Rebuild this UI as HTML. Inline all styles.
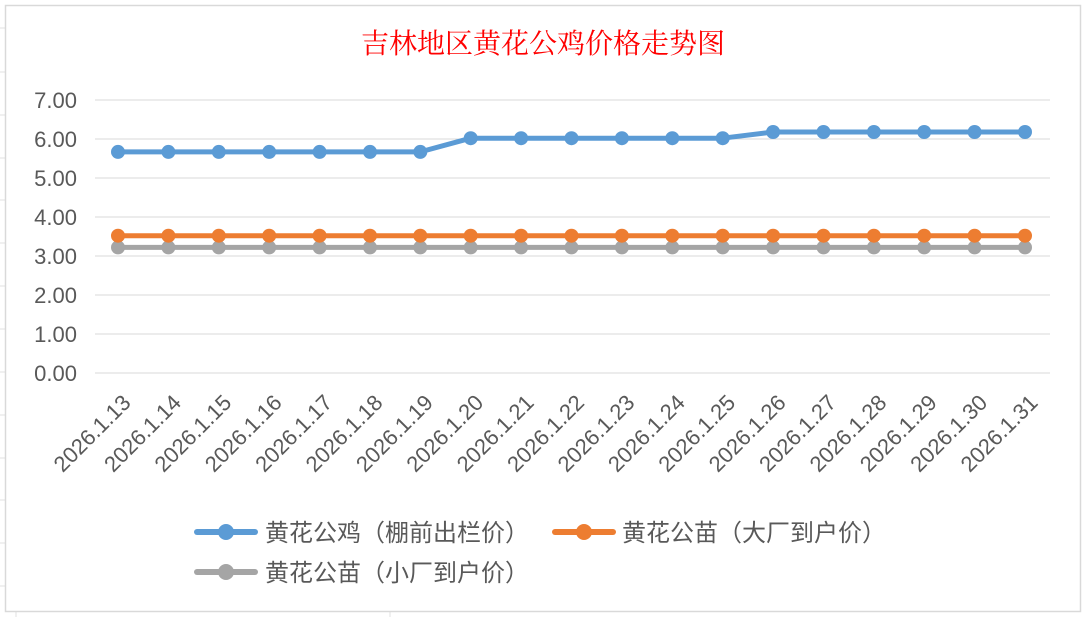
<!DOCTYPE html><html><head><meta charset="utf-8"><style>body{margin:0;background:#fff}svg{display:block}</style></head><body>
<svg width="1087" height="617" xmlns="http://www.w3.org/2000/svg" font-family="'Liberation Sans','Noto Sans CJK SC',sans-serif">
<defs>
<g id="m1"><circle cx="118" cy="151.9" r="7"/><circle cx="168.4" cy="151.9" r="7"/><circle cx="218.8" cy="151.9" r="7"/><circle cx="269.2" cy="151.9" r="7"/><circle cx="319.6" cy="151.9" r="7"/><circle cx="370" cy="151.9" r="7"/><circle cx="420.3" cy="151.9" r="7"/><circle cx="470.7" cy="138.2" r="7"/><circle cx="521.1" cy="138.2" r="7"/><circle cx="571.5" cy="138.2" r="7"/><circle cx="621.9" cy="138.2" r="7"/><circle cx="672.3" cy="138.2" r="7"/><circle cx="722.7" cy="138.2" r="7"/><circle cx="773.1" cy="132" r="7"/><circle cx="823.5" cy="132" r="7"/><circle cx="873.9" cy="132" r="7"/><circle cx="924.2" cy="132" r="7"/><circle cx="974.6" cy="132" r="7"/><circle cx="1025" cy="132" r="7"/></g>
<g id="row"><circle cx="118" cy="0" r="7"/><circle cx="168.4" cy="0" r="7"/><circle cx="218.8" cy="0" r="7"/><circle cx="269.2" cy="0" r="7"/><circle cx="319.6" cy="0" r="7"/><circle cx="370" cy="0" r="7"/><circle cx="420.3" cy="0" r="7"/><circle cx="470.7" cy="0" r="7"/><circle cx="521.1" cy="0" r="7"/><circle cx="571.5" cy="0" r="7"/><circle cx="621.9" cy="0" r="7"/><circle cx="672.3" cy="0" r="7"/><circle cx="722.7" cy="0" r="7"/><circle cx="773.1" cy="0" r="7"/><circle cx="823.5" cy="0" r="7"/><circle cx="873.9" cy="0" r="7"/><circle cx="924.2" cy="0" r="7"/><circle cx="974.6" cy="0" r="7"/><circle cx="1025" cy="0" r="7"/></g>
</defs>
<rect width="1087" height="617" fill="#fff"/>
<g stroke="#e0e0e0" stroke-width="1">
<line x1="0" y1="28" x2="5" y2="28"/><line x1="0" y1="72" x2="5" y2="72"/><line x1="0" y1="115" x2="5" y2="115"/><line x1="0" y1="158" x2="5" y2="158"/><line x1="0" y1="200" x2="5" y2="200"/><line x1="0" y1="243" x2="5" y2="243"/><line x1="0" y1="286" x2="5" y2="286"/><line x1="0" y1="329" x2="5" y2="329"/><line x1="0" y1="372" x2="5" y2="372"/><line x1="0" y1="415" x2="5" y2="415"/><line x1="0" y1="458" x2="5" y2="458"/><line x1="0" y1="500" x2="5" y2="500"/><line x1="0" y1="543" x2="5" y2="543"/><line x1="0" y1="586" x2="5" y2="586"/>
<line x1="16" y1="612" x2="16" y2="617"/><line x1="390" y1="612" x2="390" y2="617"/>
</g>
<rect x="5.5" y="5.5" width="1075" height="606" fill="#fff" stroke="#d9d9d9" stroke-width="1.5"/>
<text x="543" y="53" text-anchor="middle" fill="#ff0000" font-size="28" font-family="'Liberation Serif','Noto Serif CJK SC',serif">吉林地区黄花公鸡价格走势图</text>
<g stroke="#d9d9d9" stroke-width="1">
<line x1="95" y1="100" x2="1050" y2="100"/><line x1="95" y1="139" x2="1050" y2="139"/><line x1="95" y1="178" x2="1050" y2="178"/><line x1="95" y1="217" x2="1050" y2="217"/><line x1="95" y1="256" x2="1050" y2="256"/><line x1="95" y1="295" x2="1050" y2="295"/><line x1="95" y1="334" x2="1050" y2="334"/><line x1="95" y1="373" x2="1050" y2="373"/>
</g>
<g fill="#595959" font-size="22" text-anchor="end">
<text x="77" y="108">7.00</text><text x="77" y="147">6.00</text><text x="77" y="186">5.00</text><text x="77" y="225">4.00</text><text x="77" y="264">3.00</text><text x="77" y="303">2.00</text><text x="77" y="342">1.00</text><text x="77" y="381">0.00</text>
</g>
<line x1="118" y1="247.4" x2="1025" y2="247.4" stroke="#a5a5a5" stroke-width="5" stroke-linecap="round"/>
<use href="#row" transform="translate(0,247.4)" fill="#a5a5a5"/>
<line x1="118" y1="235.7" x2="1025" y2="235.7" stroke="#ed7d31" stroke-width="5" stroke-linecap="round"/>
<use href="#row" transform="translate(0,235.7)" fill="#ed7d31"/>
<polyline points="118,151.9 420.3,151.9 470.7,138.2 722.7,138.2 773.1,132 1025,132" fill="none" stroke="#5b9bd5" stroke-width="5" stroke-linejoin="round" stroke-linecap="round"/>
<use href="#m1" fill="#5b9bd5"/>
<g font-size="22" fill="#595959" text-anchor="end">
<text transform="translate(132,404) rotate(-45)">2026.1.13</text>
<text transform="translate(182.4,404) rotate(-45)">2026.1.14</text>
<text transform="translate(232.8,404) rotate(-45)">2026.1.15</text>
<text transform="translate(283.2,404) rotate(-45)">2026.1.16</text>
<text transform="translate(333.6,404) rotate(-45)">2026.1.17</text>
<text transform="translate(384,404) rotate(-45)">2026.1.18</text>
<text transform="translate(434.3,404) rotate(-45)">2026.1.19</text>
<text transform="translate(484.7,404) rotate(-45)">2026.1.20</text>
<text transform="translate(535.1,404) rotate(-45)">2026.1.21</text>
<text transform="translate(585.5,404) rotate(-45)">2026.1.22</text>
<text transform="translate(635.9,404) rotate(-45)">2026.1.23</text>
<text transform="translate(686.3,404) rotate(-45)">2026.1.24</text>
<text transform="translate(736.7,404) rotate(-45)">2026.1.25</text>
<text transform="translate(787.1,404) rotate(-45)">2026.1.26</text>
<text transform="translate(837.5,404) rotate(-45)">2026.1.27</text>
<text transform="translate(887.9,404) rotate(-45)">2026.1.28</text>
<text transform="translate(938.2,404) rotate(-45)">2026.1.29</text>
<text transform="translate(988.6,404) rotate(-45)">2026.1.30</text>
<text transform="translate(1039,404) rotate(-45)">2026.1.31</text>
</g>
<g font-size="24" fill="#595959">
<line x1="197" y1="532" x2="255" y2="532" stroke="#5b9bd5" stroke-width="6" stroke-linecap="round"/><circle cx="226" cy="532" r="8" fill="#5b9bd5"/>
<text x="265" y="541">黄花公鸡（棚前出栏价）</text>
<line x1="555" y1="532" x2="613" y2="532" stroke="#ed7d31" stroke-width="6" stroke-linecap="round"/><circle cx="584" cy="532" r="8" fill="#ed7d31"/>
<text x="622" y="541">黄花公苗（大厂到户价）</text>
<line x1="197" y1="572" x2="255" y2="572" stroke="#a5a5a5" stroke-width="6" stroke-linecap="round"/><circle cx="226" cy="572" r="8" fill="#a5a5a5"/>
<text x="265" y="581">黄花公苗（小厂到户价）</text>
</g>
</svg>
</body></html>
